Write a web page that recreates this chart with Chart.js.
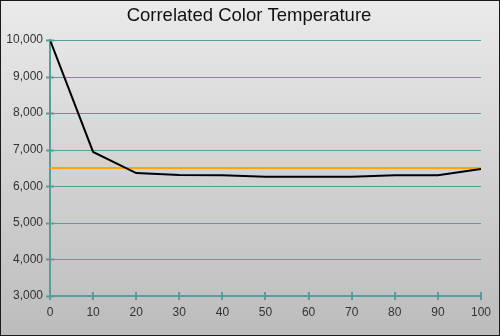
<!DOCTYPE html>
<html>
<head>
<meta charset="utf-8">
<script src="https://cdn.jsdelivr.net/npm/chart.js@4/dist/chart.umd.min.js"></script>
<style>
  html, body { margin: 0; padding: 0; background: #fff; }
  #wrap { width: 500px; height: 336px; }
</style>
</head>
<body>
<div id="wrap"><canvas id="cct"></canvas></div>
<script>
// stimulus level (% IRE) and measured colour temperature
const levels = [0, 10, 20, 30, 40, 50, 60, 70, 80, 90, 100];
const measuredK = [10000, 6940, 6360, 6310, 6300, 6260, 6260, 6260, 6300, 6300, 6470];
const targetK = 6500;

const teal = "#579d9d";

const backdrop = {
  id: "backdrop",
  beforeDraw(chart) {
    const { ctx, width, height } = chart;
    const g = ctx.createLinearGradient(0, 0, 0, height);
    g.addColorStop(0, "#eaeaea");
    g.addColorStop(1, "#bcbcbc");
    ctx.save();
    ctx.fillStyle = g;
    ctx.fillRect(0, 0, width, height);
    ctx.fillStyle = "#111";
    ctx.font = "18.5px Arial, 'Liberation Sans', sans-serif";
    ctx.textAlign = "center";
    ctx.textBaseline = "middle";
    ctx.fillText("Correlated Color Temperature", width / 2 - 1, 16);
    ctx.restore();
  },
  beforeDatasetsDraw(chart) {
    // horizontal grid snapped to whole pixels so it stays crisp
    const { ctx, scales: { x, y } } = chart;
    ctx.save();
    ctx.strokeStyle = teal;
    ctx.lineWidth = 1;
    ctx.beginPath();
    y.ticks.forEach(t => {
      const py = Math.round(y.getPixelForValue(t.value)) + 0.5;
      ctx.moveTo(x.left, py);
      ctx.lineTo(x.right, py);
    });
    ctx.stroke();
    ctx.restore();
  },
  afterDatasetsDraw(chart) {
    // tick marks crossing both axes
    const { ctx, scales: { x, y }, width, height } = chart;
    ctx.save();
    ctx.strokeStyle = teal;
    ctx.lineWidth = 2;
    ctx.beginPath();
    x.ticks.forEach(t => {
      const px = Math.round(x.getPixelForValue(t.value));
      ctx.moveTo(px, y.bottom - 4);
      ctx.lineTo(px, y.bottom + 4);
    });
    y.ticks.forEach(t => {
      const py = Math.round(y.getPixelForValue(t.value)) + 0.5;
      ctx.moveTo(x.left - 4, py);
      ctx.lineTo(x.left + 4, py);
    });
    ctx.stroke();
    ctx.strokeStyle = "#1a1a1a";
    ctx.lineWidth = 1;
    ctx.strokeRect(0.5, 0.5, width - 1, height - 1);
    ctx.restore();
  }
};

new Chart(document.getElementById("cct"), {
  type: "line",
  data: {
    datasets: [
      {
        label: "Measured",
        data: levels.map((l, i) => ({ x: l, y: measuredK[i] })),
        borderColor: "#000",
        borderWidth: 2,
        pointRadius: 0,
        tension: 0
      },
      {
        label: "Target",
        data: levels.map(l => ({ x: l, y: targetK })),
        borderColor: "#ffa500",
        borderWidth: 2,
        pointRadius: 0,
        tension: 0
      }
    ]
  },
  options: {
    responsive: true,
    maintainAspectRatio: false,
    animation: false,
    layout: { padding: { top: 40, right: 18, left: 0, bottom: 0 } },
    plugins: {
      legend: { display: false },
      title: { display: false },
      tooltip: { enabled: false }
    },
    scales: {
      x: {
        type: "linear",
        min: 0,
        max: 100,
        afterFit(scale) { scale.height = 40; },
        ticks: {
          stepSize: 10,
          padding: 9,
          color: "#333",
          font: { size: 12, family: "Arial, 'Liberation Sans', sans-serif" }
        },
        grid: { drawOnChartArea: false, drawTicks: false },
        border: { color: teal, width: 2 }
      },
      y: {
        min: 3000,
        max: 10000,
        afterFit(scale) { scale.width = 50; },
        ticks: {
          stepSize: 1000,
          padding: 7,
          color: "#333",
          font: { size: 12, family: "Arial, 'Liberation Sans', sans-serif" },
          callback: v => v.toLocaleString("en-US")
        },
        grid: { drawOnChartArea: false, drawTicks: false },
        border: { color: teal, width: 2 }
      }
    }
  },
  plugins: [backdrop]
});
</script>
</body>
</html>
